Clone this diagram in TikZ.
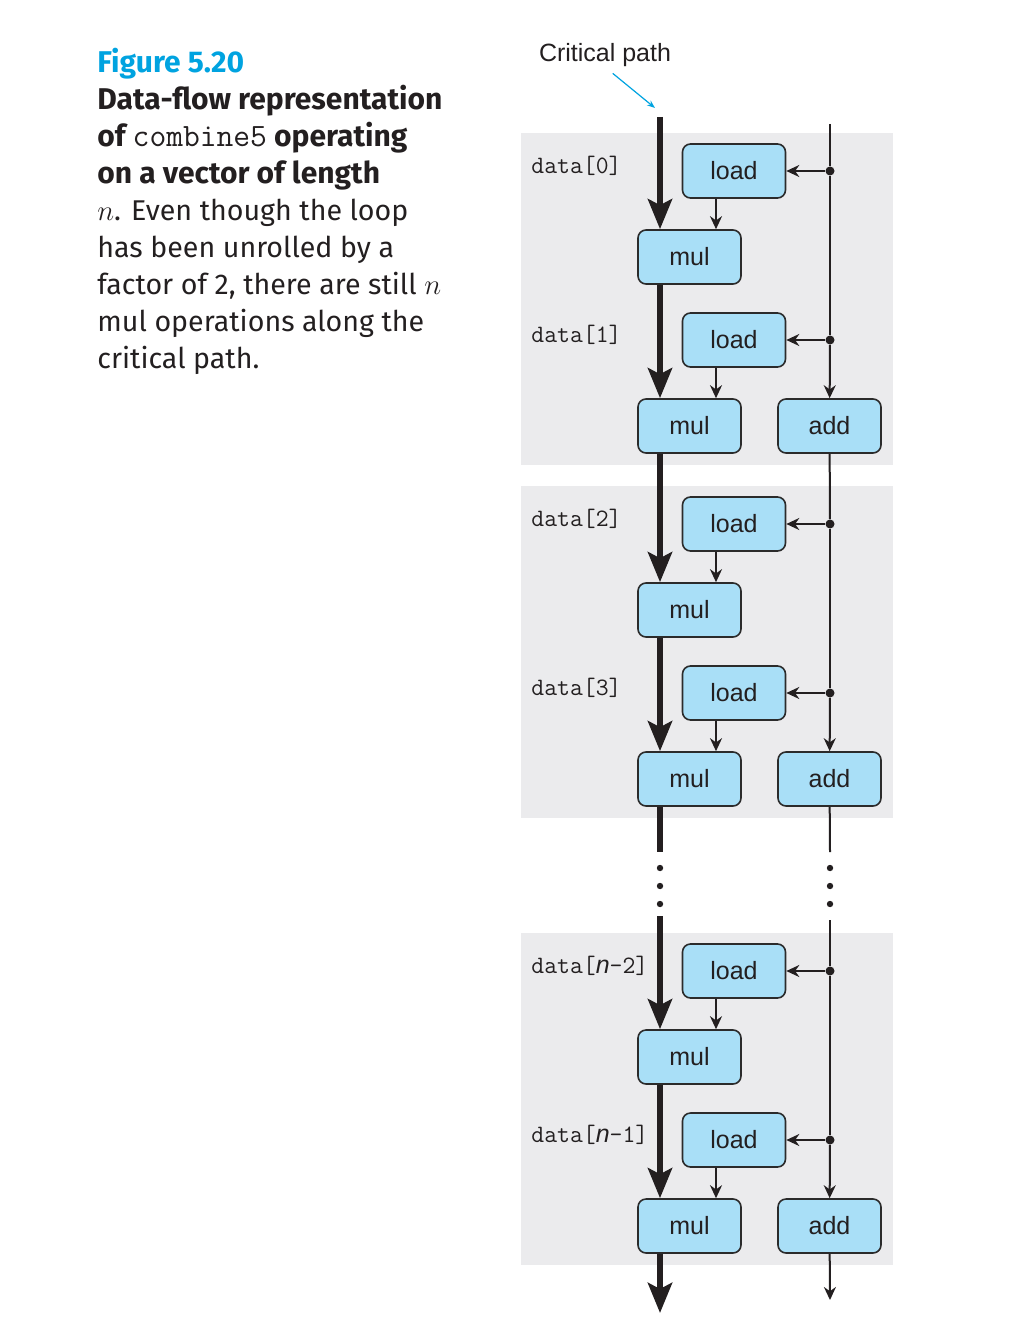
\documentclass[tikz,border=0pt]{standalone}
\usepackage{fontspec}
\setmainfont{Liberation Sans}
\newfontfamily\capfont{Fira Sans}
\usetikzlibrary{arrows.meta,positioning}

\definecolor{boxblue}{HTML}{A9DFF7}
\definecolor{boxline}{HTML}{2B2B2B}
\definecolor{panelgray}{HTML}{EBEBED}
\definecolor{figblue}{HTML}{00A3E0}
\definecolor{inkdark}{HTML}{231F20}

\newcommand\capreg[1]{{\fontsize{14.3}{18.5}\selectfont #1}}

\begin{document}
\begin{tikzpicture}[x=0.5pt,y=-0.5pt,
  op/.style={draw=boxline,fill=boxblue,line width=0.8pt,rounded corners=4pt,
    minimum width=51.5pt,minimum height=27pt,inner sep=0pt,
    font=\fontsize{12.5}{14}\selectfont,text=inkdark},
  datalbl/.style={anchor=west,inner sep=0pt,text=inkdark,
    font=\ttfamily\fontsize{12.5}{14}\selectfont},
  junction/.style={circle,fill=inkdark,inner sep=0pt,minimum size=4.5pt},
  crit/.style={draw=inkdark,line width=3pt,
    -{Stealth[length=15pt,width=12pt,inset=3pt]}},
  critline/.style={draw=inkdark,line width=3pt},
  flow/.style={draw=inkdark,line width=1pt,-{Stealth[length=6.5pt,width=6pt]}},
  feed/.style={draw=inkdark,line width=1pt},
  cparrow/.style={draw=figblue,line width=0.6pt,-{Stealth[length=4pt,width=3pt]}}
]
\useasboundingbox (0,0) rectangle (1008,1342);

% caption
\node[anchor=north west,align=left,inner sep=0pt,text=inkdark,
  font=\capfont\fontsize{15}{18.5}\selectfont] (caption) at (97,48)
  {{\color{figblue}\bfseries Figure 5.20}\\
   \textbf{Data-flow representation}\\
   \textbf{of {\mdseries\ttfamily\fontsize{16.3}{18.5}\selectfont combine5} operating}\\
   \textbf{on a vector of length}\\
   \capreg{$n$. Even though the loop}\\
   \capreg{has been unrolled by a}\\
   \capreg{factor of 2, there are still $n$}\\
   \capreg{mul operations along the}\\
   \capreg{critical path.}};

% panels and operations
\foreach \k/\dy/\ia/\ib in {1/0/0/1,2/353/2/3,
    3/800/{{\rmfamily\itshape n}-2}/{{\rmfamily\itshape n}-1}}{
  \fill[panelgray] (521,133+\dy) rectangle (893,465+\dy);
  \node[op] (load-\k-1) at (734,171+\dy) {load};
  \node[op] (mul-\k-1) at (689.5,257+\dy) {mul};
  \node[op] (load-\k-2) at (734,340+\dy) {load};
  \node[op] (mul-\k-2) at (689.5,426+\dy) {mul};
  \node[op] (add-\k) at (829.5,426+\dy) {add};
  \node[datalbl] (data-\k-1) at (531,166+\dy) {data[\ia]};
  \node[datalbl] (data-\k-2) at (531,335+\dy) {data[\ib]};
  \node[junction] (j-\k-1) at (830,171+\dy) {};
  \node[junction] (j-\k-2) at (830,340+\dy) {};
}

% critical path
\node[inner sep=0pt,text=inkdark,font=\fontsize{12.5}{14}\selectfont]
  (cplabel) at (605,55) {Critical path};
\coordinate (cptip) at (655,108);
\draw[cparrow,shorten <=5pt] (cplabel.south) -- (cptip);

\coordinate (cptop) at (660,117);
\coordinate (cpa) at (660,852);
\coordinate (cpb) at (660,916);
\coordinate (cpend) at (660,1313);
\coordinate (lx) at (716,0);

\draw[crit] (cptop) -- (mul-1-1.north -| cptop);
\foreach \k in {1,2,3}{
  \draw[crit] (mul-\k-1.south -| cptop) -- (mul-\k-2.north -| cptop);
  \draw[flow] (load-\k-1.south -| lx) -- (mul-\k-1.north -| lx);
  \draw[flow] (load-\k-2.south -| lx) -- (mul-\k-2.north -| lx);
  \draw[flow] (j-\k-1) -- (load-\k-1);
  \draw[flow] (j-\k-2) -- (load-\k-2);
  \draw[feed] (j-\k-1) -- (j-\k-2);
  \draw[flow] (j-\k-2) -- (add-\k);
}
\draw[crit] (mul-1-2.south -| cptop) -- (mul-2-1.north -| cptop);
\draw[critline] (mul-2-2.south -| cptop) -- (cpa);
\draw[crit] (cpb) -- (mul-3-1.north -| cptop);
\draw[crit] (mul-3-2.south -| cptop) -- (cpend);

% feed line on the right
\coordinate (rtop) at (830,124);
\coordinate (ra) at (830,852);
\coordinate (rb) at (830,920);
\coordinate (rend) at (830,1300);
\draw[feed] (rtop) -- (j-1-1);
\draw[feed] (add-1) -- (j-2-1);
\draw[feed] (add-2) -- (ra);
\draw[feed] (rb) -- (j-3-1);
\draw[flow] (add-3) -- (rend);

% elided iterations
\foreach \y in {868,886,904}{
  \fill[inkdark] (660,\y) circle (1.6pt);
  \fill[inkdark] (830,\y) circle (1.6pt);
}
\end{tikzpicture}
\end{document}
